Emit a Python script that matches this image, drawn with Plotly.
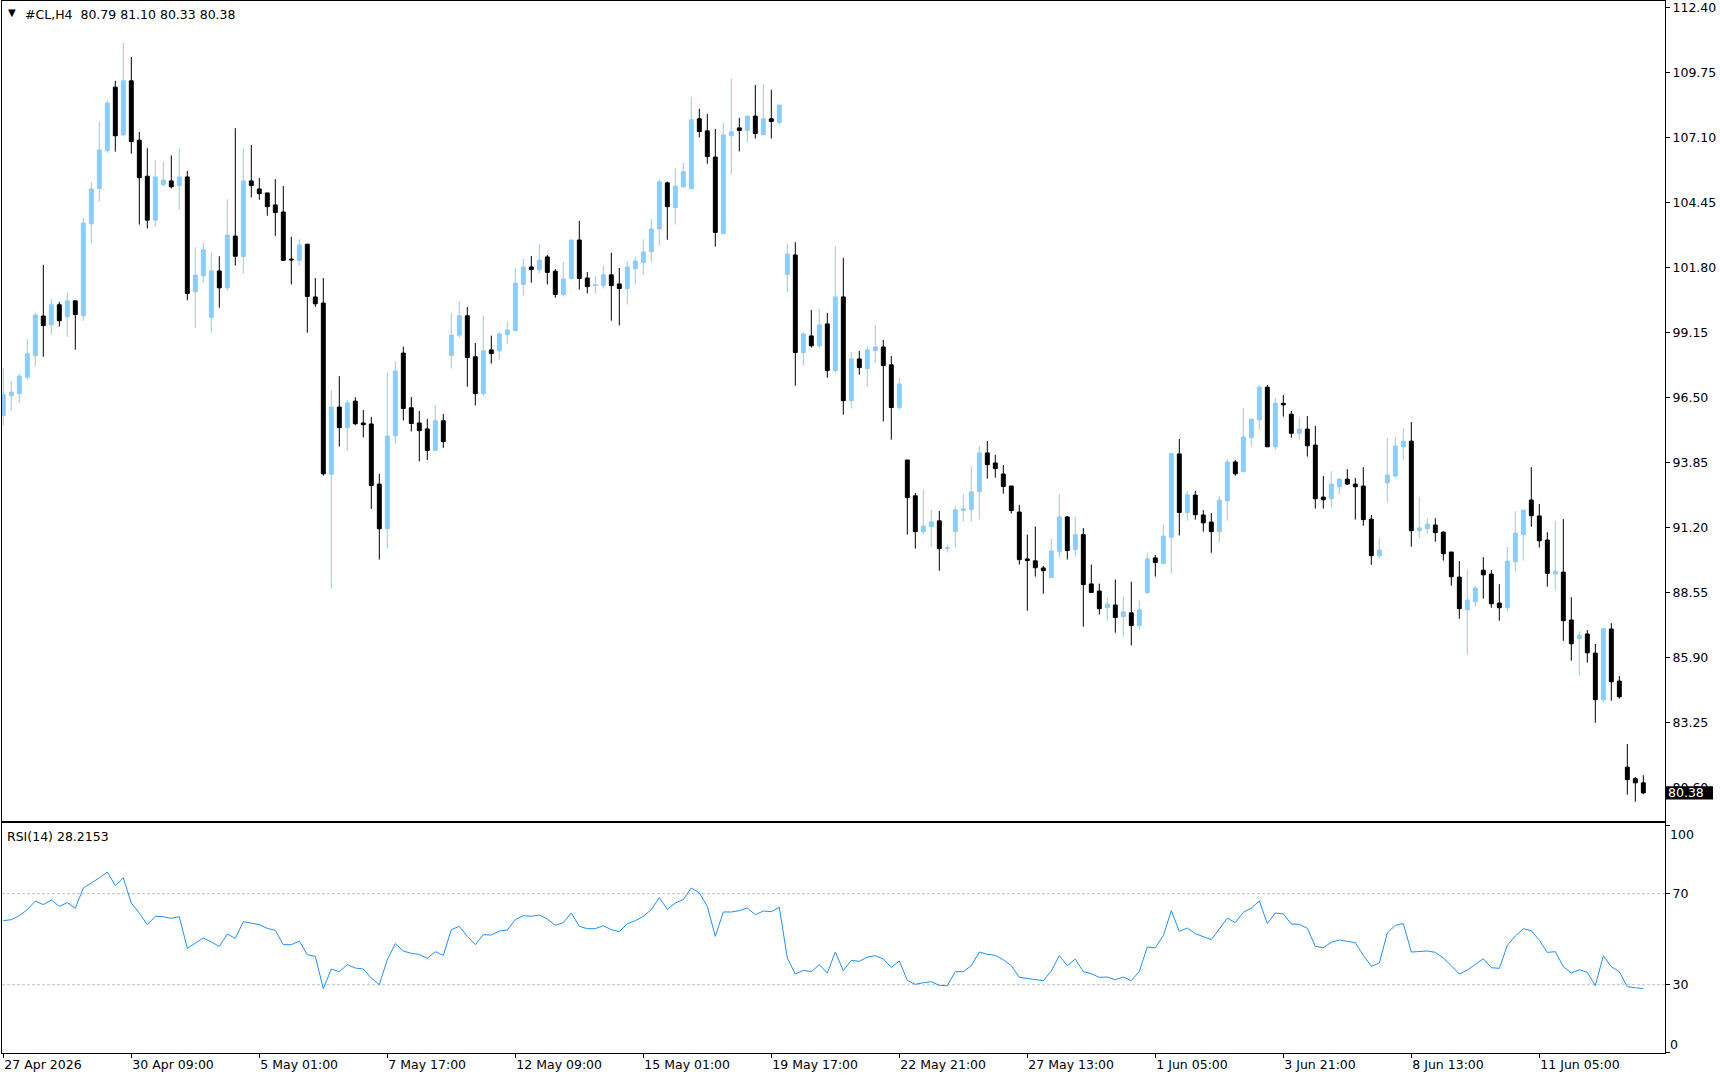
import plotly.graph_objects as go

# ---------------- data ----------------
bar_index = list(range(206))

open_ = [95.77, 96.57, 96.66, 97.33, 98.20, 99.82, 99.46, 100.28, 99.79, 100.44,
         99.83, 103.58, 105.02, 106.56, 109.15, 107.20, 109.41, 106.99, 105.52, 103.73,
         105.18, 105.33, 105.14, 105.49, 100.81, 101.46, 99.76, 101.66, 100.97, 103.08,
         102.25, 105.33, 105.00, 104.84, 104.35, 104.06, 102.14, 102.09, 102.75, 100.60,
         100.35, 93.37, 96.11, 95.27, 96.35, 95.46, 95.42, 92.97, 91.15, 94.94,
         98.31, 96.08, 95.46, 95.22, 94.34, 95.55, 98.21, 99.04, 99.83, 98.16,
         96.66, 98.44, 98.40, 99.06, 99.23, 101.11, 101.82, 101.71, 102.23, 101.65,
         100.70, 101.35, 102.92, 101.37, 101.06, 101.06, 101.50, 101.13, 100.94, 101.75,
         102.00, 102.44, 103.37, 105.25, 104.24, 105.09, 105.01, 107.86, 107.37, 106.30,
         103.18, 107.17, 107.49, 107.38, 107.97, 107.21, 107.86, 107.71, 101.51, 102.31,
         98.33, 99.01, 98.61, 99.50, 97.60, 100.60, 96.37, 98.07, 97.68, 98.41,
         98.56, 97.83, 96.09, 93.95, 92.49, 91.03, 91.24, 91.47, 90.34, 91.03,
         91.89, 91.93, 92.66, 94.24, 93.83, 93.38, 92.89, 91.83, 89.92, 89.84,
         89.55, 89.16, 90.22, 91.63, 90.30, 90.91, 88.90, 88.61, 87.93, 88.04,
         87.57, 87.72, 87.20, 88.55, 89.96, 89.73, 90.80, 94.20, 91.81, 92.52,
         91.71, 91.42, 91.03, 92.29, 93.87, 93.47, 94.86, 95.59, 96.92, 94.49,
         96.26, 95.82, 95.04, 95.21, 94.56, 92.44, 92.37, 92.86, 93.17, 92.97,
         92.89, 91.54, 90.05, 93.02, 93.30, 94.49, 94.72, 91.07, 91.15, 91.30,
         91.01, 90.20, 89.18, 87.85, 88.17, 89.46, 89.30, 88.12, 87.93, 89.80,
         90.91, 92.32, 91.67, 90.69, 89.31, 89.38, 87.43, 86.67, 86.86, 86.08,
         84.18, 87.06, 84.94, 81.43, 80.96, 80.79]

high = [97.70, 97.17, 97.46, 98.88, 99.95, 101.91, 100.51, 100.40, 100.77, 100.44,
        103.82, 105.29, 107.73, 108.62, 109.41, 110.95, 110.38, 107.32, 106.66, 106.17,
        106.10, 106.37, 106.66, 105.73, 102.63, 102.80, 102.40, 102.26, 104.59, 107.48,
        106.66, 106.80, 105.45, 104.84, 105.40, 105.12, 103.05, 102.96, 102.75, 101.37,
        101.37, 96.81, 97.37, 96.39, 96.51, 95.99, 95.71, 93.39, 97.51, 97.98,
        98.57, 96.52, 95.95, 95.63, 96.19, 95.83, 99.94, 100.43, 100.19, 98.72,
        99.83, 99.02, 99.17, 99.58, 101.79, 102.15, 102.27, 102.76, 102.31, 101.74,
        102.02, 102.92, 103.70, 101.61, 101.46, 101.86, 102.40, 101.78, 102.06, 102.23,
        102.96, 103.77, 105.37, 105.30, 105.85, 106.06, 108.76, 108.27, 108.06, 107.45,
        107.69, 109.49, 107.90, 107.97, 109.24, 109.28, 109.04, 108.42, 102.79, 102.83,
        99.17, 100.07, 100.11, 99.95, 102.68, 102.19, 98.36, 98.40, 98.60, 99.46,
        98.85, 98.19, 97.30, 93.95, 92.61, 92.73, 91.92, 91.87, 90.49, 92.08,
        92.57, 93.67, 94.52, 94.73, 94.16, 93.75, 92.89, 92.12, 90.91, 91.24,
        89.63, 90.73, 92.57, 91.67, 91.63, 91.18, 89.69, 88.91, 88.34, 89.08,
        88.38, 88.99, 88.22, 90.18, 90.08, 91.32, 94.24, 94.81, 92.70, 92.69,
        91.91, 91.79, 92.48, 93.99, 93.95, 96.07, 95.62, 97.01, 97.01, 96.48,
        96.60, 95.95, 95.66, 95.74, 95.34, 93.30, 93.50, 93.22, 93.58, 93.22,
        93.66, 91.71, 90.77, 94.85, 94.89, 95.25, 95.50, 92.44, 91.58, 91.58,
        91.05, 90.20, 89.83, 89.46, 88.81, 89.99, 89.46, 88.89, 90.40, 91.87,
        91.91, 93.66, 92.16, 91.01, 91.46, 91.54, 88.36, 86.98, 87.02, 86.45,
        87.11, 87.30, 85.14, 82.37, 81.03, 81.10]

low = [95.36, 95.96, 96.29, 97.22, 97.76, 98.16, 99.06, 99.39, 98.97, 98.45,
       99.63, 102.77, 104.49, 106.47, 106.52, 107.17, 106.44, 103.55, 103.39, 103.46,
       105.09, 105.02, 104.16, 100.46, 99.34, 101.18, 99.14, 100.16, 100.87, 101.88,
       101.55, 104.65, 104.56, 103.91, 103.09, 102.09, 101.11, 101.88, 99.14, 100.20,
       93.31, 88.70, 94.50, 94.33, 95.37, 94.87, 91.96, 89.89, 90.33, 94.60,
       95.56, 95.11, 93.90, 93.95, 94.34, 94.45, 97.68, 98.92, 96.94, 96.17,
       96.57, 97.88, 98.05, 98.69, 99.23, 100.66, 101.18, 101.56, 101.11, 100.57,
       100.62, 101.35, 100.90, 100.74, 100.74, 100.94, 99.63, 99.44, 100.29, 101.11,
       101.51, 102.03, 102.69, 102.93, 103.55, 105.05, 105.01, 107.10, 106.03, 102.65,
       103.18, 105.59, 106.53, 106.89, 107.06, 107.21, 107.06, 107.64, 100.78, 96.98,
       97.80, 98.53, 98.53, 97.31, 97.51, 95.80, 96.05, 97.43, 96.94, 97.92,
       95.52, 94.78, 96.01, 90.91, 90.34, 90.91, 90.42, 89.44, 90.18, 90.38,
       91.44, 91.44, 91.52, 93.19, 93.23, 92.58, 91.77, 89.69, 87.81, 89.20,
       88.50, 89.16, 89.97, 89.89, 90.01, 87.16, 88.55, 87.65, 87.40, 86.91,
       86.75, 86.39, 87.04, 88.50, 89.20, 89.73, 89.32, 90.87, 91.48, 91.52,
       91.03, 90.17, 90.58, 91.48, 93.31, 93.47, 94.53, 95.19, 94.49, 94.37,
       95.72, 94.86, 94.78, 94.09, 91.97, 91.97, 92.01, 92.54, 92.93, 91.52,
       91.27, 89.68, 89.93, 92.25, 93.23, 93.96, 90.42, 90.78, 90.95, 90.62,
       89.85, 88.83, 87.48, 86.01, 87.97, 88.30, 87.93, 87.40, 87.77, 89.40,
       89.85, 91.23, 90.38, 88.79, 88.66, 86.58, 85.77, 85.16, 85.69, 83.24,
       84.06, 84.14, 84.22, 80.31, 80.02, 80.33]

close = [96.62, 96.72, 97.37, 98.28, 99.86, 99.43, 100.28, 99.63, 100.44, 99.88,
         103.61, 105.00, 106.59, 108.50, 107.17, 109.41, 106.93, 105.46, 103.73, 105.49,
         105.36, 105.09, 105.49, 100.74, 101.49, 102.52, 101.66, 100.97, 103.12, 102.26,
         105.33, 105.14, 104.81, 104.28, 104.04, 102.09, 102.11, 102.72, 100.62, 100.32,
         93.39, 96.11, 95.27, 96.28, 95.43, 95.39, 92.91, 91.15, 94.93, 97.58,
         96.05, 95.44, 95.15, 94.34, 95.55, 94.70, 99.04, 99.83, 98.13, 96.66,
         98.40, 98.29, 99.09, 99.25, 101.16, 101.82, 101.71, 102.10, 101.60, 100.70,
         101.33, 102.92, 101.35, 101.02, 101.09, 101.50, 101.06, 100.94, 101.82, 102.06,
         102.43, 103.37, 105.29, 104.28, 105.12, 105.70, 107.82, 107.34, 106.32, 103.23,
         107.20, 107.33, 107.38, 107.97, 107.26, 107.86, 107.75, 108.42, 102.35, 98.33,
         99.09, 98.61, 99.46, 97.60, 100.60, 96.37, 98.07, 97.72, 98.44, 98.56,
         97.80, 96.09, 97.05, 92.42, 91.03, 91.26, 91.43, 90.34, 90.37, 91.92,
         91.96, 92.65, 94.24, 93.76, 93.60, 92.87, 91.89, 89.89, 89.85, 89.56,
         89.44, 90.24, 91.63, 90.26, 90.91, 88.87, 88.55, 87.89, 88.08, 87.53,
         87.76, 87.20, 87.84, 89.92, 89.77, 90.85, 94.21, 91.81, 92.53, 91.72,
         91.39, 91.03, 92.32, 93.87, 93.39, 94.89, 95.62, 96.92, 94.49, 96.27,
         96.20, 95.04, 95.21, 94.53, 92.37, 92.33, 92.97, 93.17, 92.97, 92.86,
         91.52, 90.05, 90.28, 93.34, 94.52, 94.72, 91.07, 91.18, 91.34, 90.99,
         90.13, 89.19, 87.89, 88.24, 88.73, 89.27, 88.09, 87.93, 89.83, 90.97,
         91.91, 91.68, 90.66, 89.33, 89.42, 87.40, 86.46, 86.81, 86.09, 84.18,
         87.07, 84.91, 84.30, 80.92, 80.79, 80.38]

rsi = [58.13, 58.57, 60.32, 62.96, 66.77, 65.16, 67.21, 64.43, 66.04, 63.55,
       72.48, 74.68, 76.88, 79.51, 73.51, 76.88, 65.89, 61.50, 56.37, 60.03,
       59.88, 59.15, 59.88, 45.97, 48.31, 50.51, 48.75, 46.85, 52.27, 50.36,
       57.69, 57.10, 56.37, 54.76, 53.88, 47.58, 47.58, 49.19, 43.19, 42.45,
       28.25, 36.89, 35.72, 38.79, 37.33, 36.89, 32.93, 30.00, 40.99, 48.02,
       44.80, 43.77, 43.33, 41.58, 44.50, 42.89, 54.17, 55.64, 51.24, 47.58,
       51.97, 51.83, 53.59, 54.03, 58.57, 60.32, 60.03, 60.62, 58.86, 56.08,
       57.25, 61.50, 55.64, 54.61, 54.61, 55.93, 54.17, 53.29, 56.81, 58.13,
       60.03, 62.96, 68.23, 63.11, 65.89, 67.36, 72.48, 70.28, 64.43, 51.24,
       61.94, 61.94, 62.52, 63.69, 60.76, 62.37, 62.08, 63.99, 41.72, 34.69,
       36.30, 35.72, 38.79, 35.13, 44.36, 36.16, 40.70, 40.26, 42.16, 42.75,
       41.28, 37.62, 40.40, 31.91, 30.15, 30.88, 31.32, 29.71, 29.56, 35.72,
       35.72, 38.35, 44.36, 43.33, 42.89, 40.99, 38.35, 33.23, 32.64, 32.05,
       31.76, 36.01, 42.75, 38.35, 41.28, 35.72, 34.84, 33.23, 33.37, 32.20,
       33.37, 31.76, 35.86, 46.55, 46.26, 51.54, 62.52, 53.44, 54.90, 52.41,
       50.95, 49.78, 54.46, 59.30, 57.25, 61.79, 63.69, 66.77, 56.81, 61.50,
       61.06, 56.66, 56.52, 54.76, 46.85, 46.26, 48.61, 49.63, 49.05, 48.46,
       42.89, 38.06, 39.52, 52.71, 56.08, 56.81, 44.36, 44.65, 44.80, 44.21,
       41.72, 38.35, 34.69, 36.45, 38.94, 41.43, 37.47, 37.18, 47.29, 51.39,
       54.61, 53.73, 49.48, 44.21, 44.50, 37.91, 35.13, 36.59, 35.42, 29.56,
       42.75, 37.91, 35.72, 29.12, 28.68, 28.22]

date_tick_bars = [0, 16, 32, 48, 64, 80, 96, 112, 128, 144, 160, 176, 192]
date_tick_labels = ["27 Apr 2026", "30 Apr 09:00", "5 May 01:00", "7 May 17:00",
                    "12 May 09:00", "15 May 01:00", "19 May 17:00", "22 May 21:00",
                    "27 May 13:00", "1 Jun 05:00", "3 Jun 21:00", "8 Jun 13:00",
                    "11 Jun 05:00"]
price_ticks = [112.40, 109.75, 107.10, 104.45, 101.80, 99.15, 96.50, 93.85,
               91.20, 88.55, 85.90, 83.25, 80.60]
rsi_levels = [70, 30]
symbol_title = "#CL,H4"
last_ohlc = "80.79 81.10 80.33 80.38"
rsi_title = "RSI(14) 28.2153"
last_price = 80.38

# ---------------- figure ----------------
FONT = "DejaVu Sans"
FS = 12.5

fig = go.Figure()
fig.add_trace(go.Candlestick(
    x=bar_index, open=open_, high=high, low=low, close=close,
    increasing=dict(line=dict(color="#87CEFA", width=1), fillcolor="#87CEFA"),
    decreasing=dict(line=dict(color="#000000", width=1), fillcolor="#000000"),
    whiskerwidth=0, xaxis="x", yaxis="y", showlegend=False, hoverinfo="skip"))
fig.add_trace(go.Scatter(
    x=bar_index, y=rsi, mode="lines", line=dict(color="#1E90FF", width=1),
    xaxis="x2", yaxis="y2", showlegend=False, hoverinfo="skip"))

for lv in rsi_levels:
    fig.add_shape(type="line", xref="x2 domain", yref="y2", x0=0, x1=1, y0=lv, y1=lv,
                  line=dict(color="#C0C0C0", width=1, dash="3px,2px"), layer="below")

# black price box behind the last-price label on the right axis
fig.add_shape(type="rect", xref="paper", yref="y", layer="above",
              xsizemode="pixel", xanchor=1, x0=1, x1=48,
              ysizemode="pixel", yanchor=last_price, y0=-6.7, y1=6.7,
              fillcolor="#000000", line=dict(width=0))

xr = [-0.1625, 207.71]
axis_common = dict(showgrid=False, zeroline=False, showline=True, mirror=True,
                   linecolor="#000000", linewidth=1)

fig.update_layout(
    width=1720, height=1080,
    margin=dict(l=2, r=55, t=1, b=27),
    paper_bgcolor="#FFFFFF", plot_bgcolor="#FFFFFF",
    font=dict(family=FONT, size=FS, color="#000000"),
    showlegend=False,
    xaxis=dict(range=xr, domain=[0, 1], anchor="y", showticklabels=False, ticks="",
               rangeslider=dict(visible=False), **axis_common),
    yaxis=dict(domain=[0.22082, 1], range=[79.247, 112.663], side="right", anchor="x",
               tickmode="array", tickvals=price_ticks,
               ticktext=[f"{v:.2f}" for v in price_ticks],
               ticks="outside", ticklen=4, tickcolor="#000000",
               ticklabeloverflow="allow",
               tickfont=dict(family=FONT, size=FS, color="#000000"), **axis_common),
    xaxis2=dict(range=xr, domain=[0, 1], anchor="y2", matches="x",
                tickmode="array", tickvals=date_tick_bars, ticktext=date_tick_labels,
                ticks="outside", ticklen=4, tickcolor="#000000",
                ticklabelposition="outside right",
                tickfont=dict(family=FONT, size=FS, color="#000000"), **axis_common),
    yaxis2=dict(domain=[0, 0.21835], range=[0, 100.9], side="right", anchor="x2",
                tickmode="array", tickvals=[100, 70, 30, 0], ticktext=["", "70", "30", ""],
                ticks="outside", ticklen=4, tickcolor="#000000",
                tickfont=dict(family=FONT, size=FS, color="#000000"), **axis_common),
)

annotations = [
    dict(text="\u25BC", xref="paper", yref="paper", x=(6 - 2) / 1663, y=1 - (12.5 - 1) / 1052,
         xanchor="left", yanchor="middle", showarrow=False,
         font=dict(family=FONT, size=10, color="#000000")),
    dict(text=symbol_title + "\u00a0\u00a0" + last_ohlc.replace(" ", "\u00a0"),
         xref="paper", yref="paper", x=(22.5 - 2) / 1663, y=1 - (14 - 1) / 1052,
         xanchor="left", yanchor="middle", showarrow=False,
         font=dict(family=FONT, size=FS, color="#000000")),
    dict(text=rsi_title.replace(" ", "\u00a0"), xref="paper", yref="paper",
         x=(5 - 2) / 1663, y=1 - (836 - 1) / 1052,
         xanchor="left", yanchor="middle", showarrow=False,
         font=dict(family=FONT, size=FS, color="#000000")),
    dict(text="100", xref="paper", yref="y2", x=1, y=95.8, xanchor="left", yanchor="middle",
         xshift=3, showarrow=False, font=dict(family=FONT, size=FS, color="#000000")),
    dict(text="0", xref="paper", yref="y2", x=1, y=3.8, xanchor="left", yanchor="middle",
         xshift=3, showarrow=False, font=dict(family=FONT, size=FS, color="#000000")),
    dict(text=f"{last_price:.2f}", xref="paper", yref="y", x=1, y=last_price,
         xanchor="left", yanchor="middle", xshift=2, showarrow=False,
         borderpad=0, font=dict(family=FONT, size=FS, color="#FFFFFF")),
]
fig.update_layout(annotations=annotations)

fig.write_html("out.html")
